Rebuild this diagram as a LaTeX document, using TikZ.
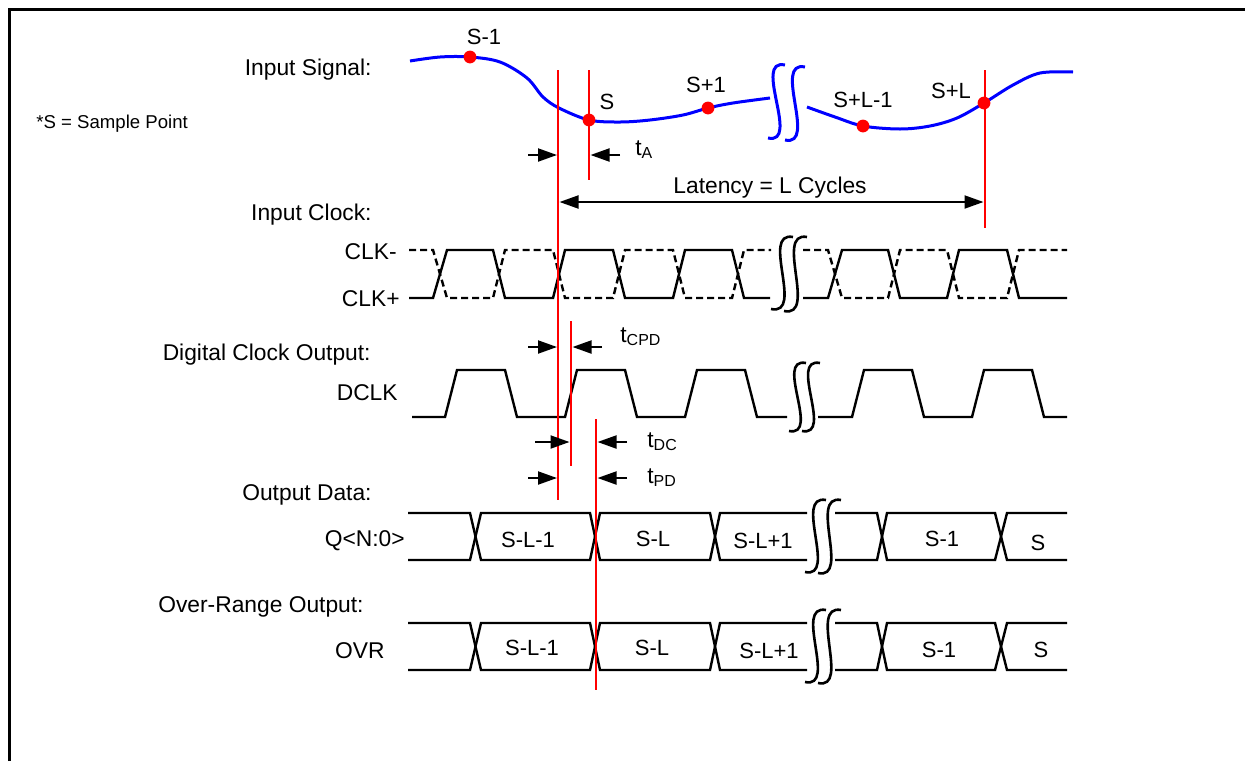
\documentclass[tikz,border=0pt]{standalone}
\usepackage{fontspec}
\setmainfont{Liberation Sans}
\usetikzlibrary{arrows.meta}
\begin{document}
\begin{tikzpicture}[x=0.5pt,y=-0.5pt,
  lbl/.style={inner sep=0pt, font=\fontsize{11.4}{13}\selectfont},
  sl/.style={inner sep=0pt, font=\fontsize{11}{13}\selectfont},
  wave/.style={line width=1.2pt, line join=miter},
  dwave/.style={line width=1.2pt, dash pattern=on 3.5pt off 2pt},
  redl/.style={red, line width=1.4pt},
  brk/.style={line width=1.3pt},
  sig/.style={blue, line width=1.5pt},
  dimarr/.style={line width=1pt, -{Triangle[length=9.5pt,width=6.5pt]}},
  dimboth/.style={line width=1pt, {Triangle[length=9.5pt,width=6.5pt]}-{Triangle[length=9.5pt,width=6.5pt]}},
  dot/.style={red},
]
\useasboundingbox (0,0) rectangle (1245,761);
% frame
\draw[line width=1.5pt] (9,761) -- (9,9) -- (1245,9);

% left labels
\node[lbl, anchor=base east] (inSig) at (372,75) {Input Signal:};
\node[inner sep=0pt, font=\fontsize{9.3}{11}\selectfont, anchor=base west] (note) at (36,128) {*S = Sample Point};
\node[lbl, anchor=base east] (inClk) at (372,220) {Input Clock:};
\node[lbl, anchor=base east] (clkm) at (397,259) {CLK-};
\node[lbl, anchor=base east] (clkp) at (400,306) {CLK+};
\node[lbl, anchor=base east] (dco) at (371,360) {Digital Clock Output:};
\node[lbl, anchor=base east] (dclk) at (398,400) {DCLK};
\node[lbl, anchor=base east] (od) at (372,500) {Output Data:};
\node[lbl, anchor=base east] (qn) at (405,546) {Q<N:0>};
\node[lbl, anchor=base east] (oro) at (364,612) {Over-Range Output:};
\node[lbl, anchor=base east] (ovr) at (385,658) {OVR};

% input signal
\draw[sig] plot[smooth, tension=0.55] coordinates {(410,61) (440,57) (470,57) (500,62) (527,78) (543,97) (559,108) (589,120) (620,122) (650,120) (683,115) (708,108) (733,103) (770,98)};
\draw[sig] plot[smooth, tension=0.55] coordinates {(807,107) (835,117) (863,126) (900,129) (930,126) (957,118) (984,103) (1013,85) (1040,73) (1073,72)};
% break marks signal
\draw[sig] (785,65) .. controls (752,58) and (801,145) .. (768,138);
\draw[sig] (805,67) .. controls (772,60) and (818,147) .. (785,140);

% clock
\draw[dwave] (409,250) -- (433,250) -- (447,298) -- (493,298) -- (505,250) -- (553,250) -- (565,298) -- (613,298) -- (625,250) -- (673,250) -- (685,298) -- (732,298) -- (744,250) -- (771,250);
\draw[dwave] (803,250) -- (828,250) -- (842,298) -- (888,298) -- (900,250) -- (947,250) -- (959,298) -- (1007,298) -- (1019,250) -- (1067,250);
\draw[wave] (409,298) -- (433,298) -- (447,250) -- (493,250) -- (505,298) -- (553,298) -- (565,250) -- (613,250) -- (625,298) -- (673,298) -- (685,250) -- (732,250) -- (744,298) -- (770,298);
\draw[wave] (803,298) -- (828,298) -- (842,250) -- (888,250) -- (900,298) -- (947,298) -- (959,250) -- (1007,250) -- (1019,298) -- (1067,298);
\draw[brk] (793,237) .. controls (760,231) and (805,316) .. (771,309);
\draw[brk] (807,237) .. controls (774,231) and (818,318) .. (784,311);

% DCLK
\draw[wave] (412,417) -- (445,417) -- (457,370) -- (505,370) -- (517,417) -- (565,417) -- (577,370) -- (625,370) -- (637,417) -- (685,417) -- (697,370) -- (745,370) -- (757,417) -- (787,417);
\draw[wave] (818,417) -- (852,417) -- (864,370) -- (912,370) -- (924,417) -- (972,417) -- (984,370) -- (1032,370) -- (1044,417) -- (1067,417);
\draw[brk] (806,363) .. controls (774,357) and (821,437) .. (789,431);
\draw[brk] (820,363) .. controls (788,357) and (834,437) .. (802,431);

% Q data
\draw[wave] (408,513) -- (470,513) -- (481,560) -- (590,560) -- (600,513) -- (710,513) -- (720,560) -- (807,560);
\draw[wave] (408,560) -- (470,560) -- (481,513) -- (590,513) -- (600,560) -- (710,560) -- (720,513) -- (807,513);
\draw[wave] (835,513) -- (877,513) -- (887,560) -- (995,560) -- (1007,513) -- (1067,513);
\draw[wave] (835,560) -- (877,560) -- (887,513) -- (995,513) -- (1007,560) -- (1067,560);
\draw[brk] (826,500) .. controls (793,494) and (838,579) .. (805,572);
\draw[brk] (841,500) .. controls (808,494) and (851,580) .. (818,573);
\node[sl, anchor=base] (q1) at (528,547) {S-L-1};
\node[sl, anchor=base] (q2) at (653,546) {S-L};
\node[sl, anchor=base] (q3) at (763,548) {S-L+1};
\node[sl, anchor=base] (q4) at (942,546) {S-1};
\node[sl, anchor=base] (q5) at (1038,550) {S};

% OVR data
\draw[wave] (408,623) -- (470,623) -- (481,670) -- (590,670) -- (600,623) -- (710,623) -- (720,670) -- (807,670);
\draw[wave] (408,670) -- (470,670) -- (481,623) -- (590,623) -- (600,670) -- (710,670) -- (720,623) -- (807,623);
\draw[wave] (835,623) -- (877,623) -- (887,670) -- (995,670) -- (1007,623) -- (1067,623);
\draw[wave] (835,670) -- (877,670) -- (887,623) -- (995,623) -- (1007,670) -- (1067,670);
\draw[brk] (826,610) .. controls (793,604) and (838,689) .. (805,682);
\draw[brk] (841,610) .. controls (808,604) and (851,690) .. (818,683);
\node[sl, anchor=base] (o1) at (532,655) {S-L-1};
\node[sl, anchor=base] (o2) at (652,655) {S-L};
\node[sl, anchor=base] (o3) at (769,658) {S-L+1};
\node[sl, anchor=base] (o4) at (939,657) {S-1};
\node[sl, anchor=base] (o5) at (1041,657) {S};

% red lines
\coordinate (rA1) at (558,70);  \coordinate (rA2) at (558,500);
\coordinate (rB1) at (589,70);  \coordinate (rB2) at (589,180);
\coordinate (rL1) at (985,70);  \coordinate (rL2) at (985,228);
\coordinate (rC1) at (571,321); \coordinate (rC2) at (571,466);
\coordinate (rD1) at (596,419); \coordinate (rD2) at (596,690);
\draw[redl] (rA1) -- (rA2);
\draw[redl] (rB1) -- (rB2);
\draw[redl] (rL1) -- (rL2);
\draw[redl] (rC1) -- (rC2);
\draw[redl] (rD1) -- (rD2);

% sample dots and labels
\fill[dot] (470,57) circle (3.2pt);
\fill[dot] (589,120) circle (3.2pt);
\fill[dot] (708,108) circle (3.2pt);
\fill[dot] (863,126) circle (3.2pt);
\fill[dot] (984,103) circle (3.2pt);
\node[sl, anchor=base] (sm1) at (484,44) {S-1};
\node[sl, anchor=base] (s0) at (607,109) {S};
\node[sl, anchor=base] (sp1) at (706,92) {S+1};
\node[sl, anchor=base] (spl1) at (863,107) {S+L-1};
\node[sl, anchor=base] (spl) at (951,98) {S+L};

% timing arrows
\coordinate (a1) at (528,155); \coordinate (a2) at (557,155);
\coordinate (a3) at (620,155); \coordinate (a4) at (590.5,155);
\draw[dimarr] (a1) -- (a2);
\draw[dimarr] (a3) -- (a4);
\node[lbl, anchor=base west] (tA) at (635,155) {t\textsubscript{A}};

\coordinate (l1) at (559.5,202); \coordinate (l2) at (983.5,202);
\draw[dimboth] (l1) -- (l2);
\node[lbl, anchor=base west] (lat) at (673,193) {Latency = L Cycles};

\coordinate (c1) at (528,347); \coordinate (c2) at (557,347);
\coordinate (c3) at (602,347); \coordinate (c4) at (572.5,347);
\draw[dimarr] (c1) -- (c2);
\draw[dimarr] (c3) -- (c4);
\node[lbl, anchor=base west] (tcpd) at (620,342) {t\textsubscript{CPD}};

\coordinate (d1) at (535,442); \coordinate (d2) at (569.5,442);
\coordinate (d3) at (627,442); \coordinate (d4) at (597.5,442);
\draw[dimarr] (d1) -- (d2);
\draw[dimarr] (d3) -- (d4);
\node[lbl, anchor=base west] (tdc) at (647,447) {t\textsubscript{DC}};

\coordinate (p1) at (528,478); \coordinate (p2) at (557,478);
\coordinate (p3) at (627,478); \coordinate (p4) at (597.5,478);
\draw[dimarr] (p1) -- (p2);
\draw[dimarr] (p3) -- (p4);
\node[lbl, anchor=base west] (tpd) at (647,483) {t\textsubscript{PD}};
\end{tikzpicture}
\end{document}
